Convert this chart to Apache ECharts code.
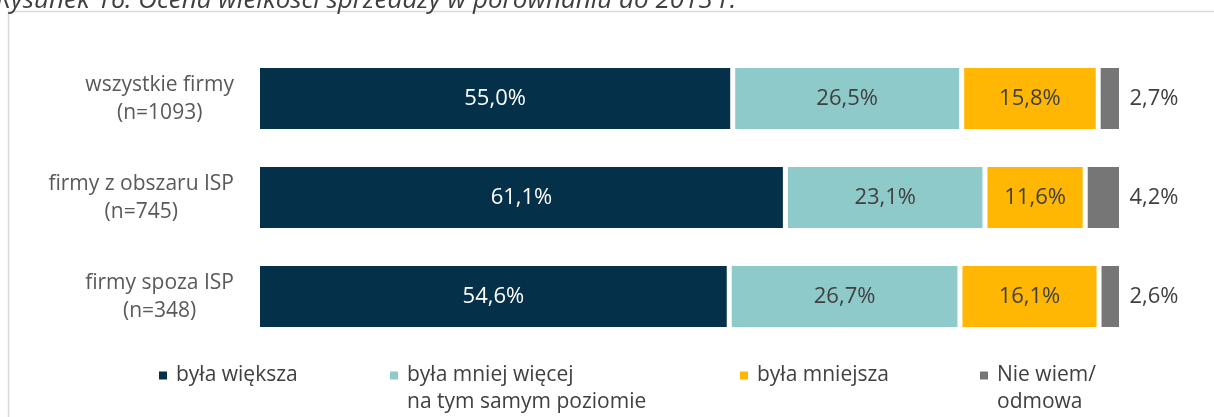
<!DOCTYPE html>
<html>
<head>
<meta charset="utf-8">
<script src="https://cdn.jsdelivr.net/npm/echarts@6/dist/echarts.min.js"></script>
<style>html,body{margin:0;padding:0;background:#fff;}#c{width:1214px;height:417px;}</style>
</head>
<body>
<div id="c"></div>
<script>
const categories = ['wszystkie firmy\n(n=1093)', 'firmy z obszaru ISP\n(n=745)', 'firmy spoza ISP\n(n=348)'];
const seriesNames = ['była większa', 'była mniej więcej\nna tym samym poziomie', 'była mniejsza', 'Nie wiem/\nodmowa'];
const wieksza = [55.0, 61.1, 54.6];
const tenSam = [26.5, 23.1, 26.7];
const mniejsza = [15.8, 11.6, 16.1];
const nieWiem = [2.7, 4.2, 2.6];
const titleText = 'Rysunek 16. Ocena wielkości sprzedaży w porównaniu do 2013 r.';

const colors = ['#04304a', '#8fcacb', '#ffb703', '#767676'];
const labelColors = ['#ffffff', '#404040', '#404040', '#404040'];
const values = [wieksza, tenSam, mniejsza, nieWiem];
const FONT = 'Open Sans';
const fmt = p => p.value.toFixed(1).replace('.', ',') + '%';

const chart = echarts.init(document.getElementById('c'), null, {renderer: 'canvas'});

const series = values.map((v, i) => ({
  name: seriesNames[i],
  type: 'bar',
  stack: 'total',
  data: v,
  barWidth: 66,
  itemStyle: {color: colors[i], borderColor: '#ffffff', borderWidth: 2.5},
  label: {
    show: true,
    position: i === 3 ? 'right' : 'inside',
    distance: 8,
    formatter: fmt,
    color: labelColors[i],
    fontFamily: FONT,
    fontSize: 22,
    padding: [2, 0, 0, 0]
  },
  emphasis: {disabled: true},
  animation: false
}));

const legendLeft = [157, 388, 738, 978];
const legends = seriesNames.map((n, i) => {
  const multi = n.indexOf('\n') >= 0;
  return {
    data: [n],
    left: legendLeft[i],
    top: multi ? 338 : 365,
    padding: 0,
    icon: 'rect',
    itemWidth: 10,
    itemHeight: 10,
    selectedMode: false,
    formatter: name => (multi ? '{a| }\n' : '') + name.split('\n').map(s => '{a|' + s + '}').join('\n'),
    textStyle: {
      rich: {a: {fontFamily: FONT, fontSize: 21, color: '#404040', lineHeight: 27, padding: [0, 0, 0, 3]}}
    }
  };
});

chart.setOption({
  animation: false,
  color: colors,
  graphic: [
    {type: 'rect', shape: {x: 8.5, y: 11.5, width: 1300, height: 500}, style: {fill: 'none', stroke: '#d9d9d9', lineWidth: 1.5}, silent: true},
    {type: 'text', x: -4, y: 14, style: {text: titleText, font: 'italic 26px "Open Sans"', fill: '#404040', verticalAlign: 'bottom'}, silent: true}
  ],
  legend: legends,
  grid: {left: 257.5, right: 92.5, top: 49, bottom: 71, containLabel: false},
  xAxis: {type: 'value', min: 0, max: 100, show: false},
  yAxis: {
    type: 'category',
    data: categories,
    inverse: true,
    axisLine: {show: false},
    axisTick: {show: false},
    axisLabel: {
      margin: 23.5,
      formatter: v => v.split('\n').map(s => '{a|' + s + '}').join('\n'),
      rich: {a: {align: 'center', fontFamily: FONT, fontSize: 21, color: '#595959', lineHeight: 28, padding: [2, 0, 0, 0]}}
    }
  },
  series: series
});
</script>
</body>
</html>
